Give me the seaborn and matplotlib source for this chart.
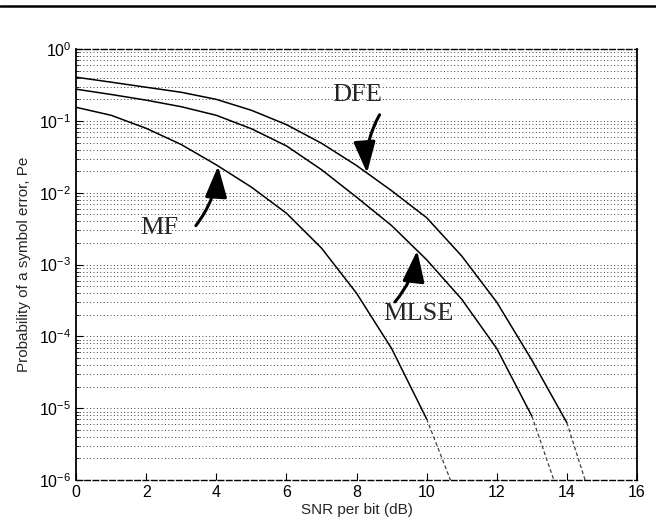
import numpy as np
import matplotlib
matplotlib.use("Agg")
import matplotlib.pyplot as plt
import matplotlib.ticker as ticker
from matplotlib.lines import Line2D
import seaborn as sns

# curve values (Pe vs SNR per bit, dB)
mf_snr = [0, 1, 2, 3, 4, 5, 6, 7, 8, 9, 10]
mf_pe = [0.155, 0.12, 0.079, 0.047, 0.0245, 0.012, 0.0052, 0.0017, 4.0e-4, 6.8e-5, 7.1e-6]
mf_end = 10.68

mlse_snr = [0, 1, 2, 3, 4, 5, 6, 7, 8, 9, 10, 11, 12, 13]
mlse_pe = [0.277, 0.234, 0.195, 0.158, 0.12, 0.078, 0.045, 0.021, 0.0087, 0.0035,
           0.00117, 3.3e-4, 6.8e-5, 7.8e-6]
mlse_end = 13.63

dfe_snr = [0, 1, 2, 3, 4, 5, 6, 7, 8, 9, 10, 11, 12, 13, 14]
dfe_pe = [0.407, 0.347, 0.295, 0.251, 0.2, 0.141, 0.089, 0.049, 0.024, 0.0107,
          0.0045, 0.00132, 3.0e-4, 4.7e-5, 6.3e-6]
dfe_end = 14.52

pe_floor = 1e-6
x_ticks = [0, 2, 4, 6, 8, 10, 12, 14, 16]
y_ticks = [1e-6, 1e-5, 1e-4, 1e-3, 1e-2, 1e-1, 1e0]

# label text and where each arrow points on its curve
labels = ["MF", "MLSE", "DFE"]
arrow_snr = [4.05, 9.73, 8.3]

sns.set_style("ticks")
plt.rcParams["font.family"] = ["Liberation Sans", "DejaVu Sans"]
plt.rcParams["mathtext.default"] = "regular"

fig = plt.figure(figsize=(6.56, 5.23), dpi=100)
ax = fig.add_axes([0.116, 0.082, 0.855, 0.824])

curves = [(mf_snr, mf_pe, mf_end), (mlse_snr, mlse_pe, mlse_end), (dfe_snr, dfe_pe, dfe_end)]
for snr, pe, end in curves:
    sns.lineplot(x=snr, y=pe, color="black", lw=1.1, ax=ax)
    # faint dashed tail down to the bottom of the plot
    sns.lineplot(x=[snr[-1], end], y=[pe[-1], pe_floor], color="0.25", lw=0.9,
                 linestyle=(0, (3, 2)), ax=ax)

ax.set_yscale("log")
ax.set_xlim(0, 16)
ax.set_ylim(1e-6, 1)
ax.set_xticks(x_ticks)
ax.yaxis.set_major_locator(ticker.FixedLocator(y_ticks))
ax.yaxis.set_major_formatter(ticker.LogFormatterSciNotation())
minor = [m * d for d in y_ticks[:-1] for m in range(2, 10)]
ax.yaxis.set_minor_locator(ticker.FixedLocator(minor))
ax.yaxis.set_minor_formatter(ticker.NullFormatter())

ax.grid(True, which="both", axis="y", color="0.25", linestyle=(0, (1, 2.5)), lw=0.7)
ax.tick_params(which="both", direction="in", labelsize=11.5, colors="black")
ax.tick_params(which="major", length=5)
ax.tick_params(which="minor", length=2.5)

for side in ["left", "right"]:
    ax.spines[side].set_visible(True)
    ax.spines[side].set_linewidth(1.3)
    ax.spines[side].set_color("black")
for side in ["top", "bottom"]:
    ax.spines[side].set_visible(True)
    ax.spines[side].set_linewidth(1.0)
    ax.spines[side].set_linestyle((0, (4, 2)))
    ax.spines[side].set_color("black")

ax.set_xlabel("SNR per bit (dB)", fontsize=11, labelpad=2)
ax.set_ylabel("Probability of a symbol error, Pe", fontsize=11, labelpad=6)

# arrows and labels (offsets in points relative to arrow tip)
tail_offsets = [(-16, -43), (-16, -37), (9, 42)]
text_offsets = [(-42, -45), (1, -46), (-7, 56)]
for (snr, pe, end), name, ax_snr, tail, txt in zip(curves, labels, arrow_snr,
                                                    tail_offsets, text_offsets):
    tip_pe = 10 ** np.interp(ax_snr, snr, np.log10(pe))
    ax.annotate("", xy=(ax_snr, tip_pe), xytext=tail, textcoords="offset points",
                arrowprops=dict(arrowstyle="-|>,head_length=1.2,head_width=0.42",
                                color="black", lw=2.2, mutation_scale=16,
                                shrinkA=0, shrinkB=0,
                                connectionstyle="arc3,rad=0.15"))
    ax.annotate(name, xy=(ax_snr, tip_pe), xytext=txt, textcoords="offset points",
                ha="center", va="center", fontsize=19,
                family=["Liberation Serif", "DejaVu Serif"])

# rule across the top of the scanned page
fig.add_artist(Line2D([0, 1], [0.9885, 0.9885], color="black", lw=1.8))

fig.savefig("out.png", dpi=100)
